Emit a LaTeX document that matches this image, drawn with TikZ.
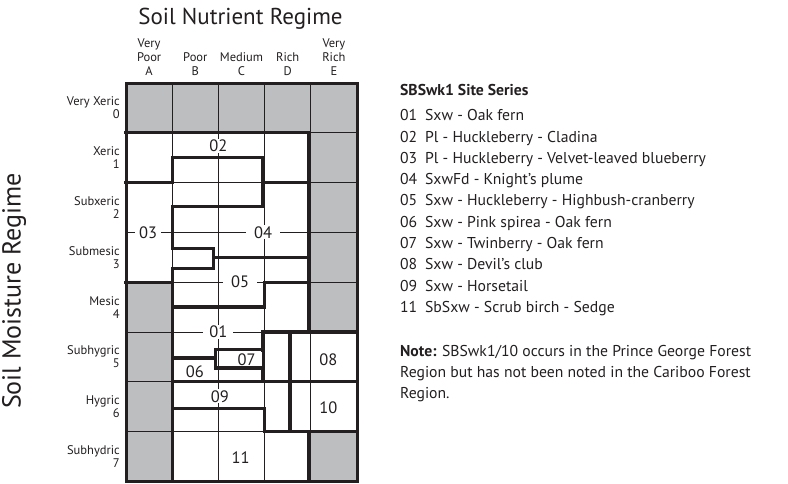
\documentclass[tikz,border=0pt]{standalone}
\usepackage{fontspec}
\setmainfont{PT Sans}

\definecolor{cellgray}{HTML}{BCBEC0}
\definecolor{ink}{HTML}{231F20}
\newcommand{\sitenum}[1]{\makebox[25pt][l]{#1}}

\tikzset{
  thinline/.style={line width=0.8pt, draw=ink},
  zoneline/.style={line width=3.3pt, draw=ink, line cap=rect},
  zone/.style={fill=white, inner xsep=6pt, inner ysep=1pt, font=\fontsize{16.5}{18}\selectfont},
  colhead/.style={anchor=south, align=center, inner sep=0pt, font=\fontsize{12.5}{14}\selectfont},
  rowhead/.style={anchor=east, align=right, inner sep=0pt, font=\fontsize{12.5}{13}\selectfont},
  entry/.style={anchor=base west, inner sep=0pt, font=\fontsize{15.7}{18}\selectfont},
}

\begin{document}
\begin{tikzpicture}[x=46.2pt, y=-49.8pt, every node/.style={text=ink}]
  \useasboundingbox (-2.7273,-1.6667) rectangle (14.329,8.0321);

  % shaded cells
  \fill[cellgray] (0,0) rectangle (5,1);
  \fill[cellgray] (4,1) rectangle (5,5);
  \fill[cellgray] (0,4) rectangle (1,8);
  \fill[cellgray] (4,7) rectangle (5,8);

  % cell grid
  \foreach \c in {1,...,4} \draw[thinline] (\c,0) -- (\c,8);
  \foreach \r in {1,...,7} \draw[thinline] (0,\r) -- (5,\r);

  % site series boundaries
  \draw[zoneline] (0,1) -- (3.96,1) -- (3.96,5);
  \draw[zoneline] (0,2) -- (1,2);
  \draw[zoneline] (2.95,2) -- (3.96,2);
  \draw[zoneline] (1,2) -- (1,1.5) -- (2.95,1.5) -- (2.95,2.48) -- (1,2.48) -- (1,3.33)
    -- (1.89,3.33) -- (1.89,3.73) -- (1,3.73) -- (1,8);
  \draw[zoneline] (1.89,3.51) -- (3.96,3.51);
  \draw[zoneline] (0,4) -- (1,4);
  \draw[zoneline] (1,4.5) -- (3,4.5) -- (3,4) -- (3.96,4);
  \draw[zoneline] (5,5) -- (2.96,5) -- (2.96,6);
  \draw[zoneline] (2.96,5.35) -- (1.93,5.35) -- (1.93,5.72) -- (2.96,5.72);
  \draw[zoneline] (1,5.52) -- (1.93,5.52);
  \draw[zoneline] (1,6) -- (5,6);
  \draw[zoneline] (1,6.54) -- (3,6.54) -- (3,7) -- (5,7);
  \draw[zoneline] (3.55,5) -- (3.55,7);
  \draw[zoneline] (3.96,7) -- (3.96,8);

  % frame
  \draw[line width=3pt, draw=ink] (0,0) rectangle (5,8);

  % site series numbers
  \node[zone] (z02) at (2.0,1.26) {02};
  \node[zone, inner xsep=4pt] (z03) at (0.48,3.0) {03};
  \node[zone, inner xsep=8pt] (z04) at (2.97,3.0) {04};
  \node[zone, inner xsep=8pt] (z05) at (2.47,4.0) {05};
  \node[zone] (z01) at (2.0,5.0) {01};
  \node[zone] (z07) at (2.61,5.55) {07};
  \node[zone] (z06) at (1.49,5.79) {06};
  \node[zone] (z08) at (4.38,5.55) {08};
  \node[zone] (z09) at (2.03,6.29) {09};
  \node[zone] (z10) at (4.38,6.52) {10};
  \node[zone] (z11) at (2.48,7.52) {11};

  % nutrient axis
  \node[anchor=base, inner sep=0pt, font=\fontsize{23}{26}\selectfont] (ntitle) at (2.478,-1.165) {Soil Nutrient Regime};
  \node[colhead] (colA) at (0.5,-0.14) {Very\\Poor\\A};
  \node[colhead] (colB) at (1.5,-0.14) {Poor\\B};
  \node[colhead] (colC) at (2.5,-0.14) {Medium\\C};
  \node[colhead] (colD) at (3.5,-0.14) {Rich\\D};
  \node[colhead] (colE) at (4.5,-0.14) {Very\\Rich\\E};

  % moisture axis
  \node[rotate=90, inner sep=0pt, font=\fontsize{26}{28}\selectfont] (mtitle) at (-2.424,4.177) {Soil Moisture Regime};
  \node[rowhead] (row0) at (-0.13,0.5) {Very Xeric\\0};
  \node[rowhead] (row1) at (-0.13,1.5) {Xeric\\1};
  \node[rowhead] (row2) at (-0.13,2.5) {Subxeric\\2};
  \node[rowhead] (row3) at (-0.13,3.5) {Submesic\\3};
  \node[rowhead] (row4) at (-0.13,4.5) {Mesic\\4};
  \node[rowhead] (row5) at (-0.13,5.5) {Subhygric\\5};
  \node[rowhead] (row6) at (-0.13,6.5) {Hygric\\6};
  \node[rowhead] (row7) at (-0.13,7.5) {Subhydric\\7};

  % legend
  \node[entry] (lhead) at (5.93,0.241) {\textbf{SBSwk1 Site Series}};
  \node[entry] (l01) at (5.93,0.757) {\sitenum{01}Sxw - Oak fern};
  \node[entry] (l02) at (5.93,1.185) {\sitenum{02}Pl - Huckleberry - Cladina};
  \node[entry] (l03) at (5.93,1.613) {\sitenum{03}Pl - Huckleberry - Velvet-leaved blueberry};
  \node[entry] (l04) at (5.93,2.040) {\sitenum{04}SxwFd - Knight’s plume};
  \node[entry] (l05) at (5.93,2.468) {\sitenum{05}Sxw - Huckleberry - Highbush-cranberry};
  \node[entry] (l06) at (5.93,2.896) {\sitenum{06}Sxw - Pink spirea - Oak fern};
  \node[entry] (l07) at (5.93,3.324) {\sitenum{07}Sxw - Twinberry - Oak fern};
  \node[entry] (l08) at (5.93,3.751) {\sitenum{08}Sxw - Devil’s club};
  \node[entry] (l09) at (5.93,4.179) {\sitenum{09}Sxw - Horsetail};
  \node[entry] (l11) at (5.93,4.607) {\sitenum{11}SbSxw - Scrub birch - Sedge};

  % note
  \node[entry] (note1) at (5.93,5.482) {\textbf{Note:} SBSwk1/10 occurs in the Prince George Forest};
  \node[entry] (note2) at (5.93,5.910) {Region but has not been noted in the Cariboo Forest};
  \node[entry] (note3) at (5.93,6.337) {Region.};
\end{tikzpicture}
\end{document}
